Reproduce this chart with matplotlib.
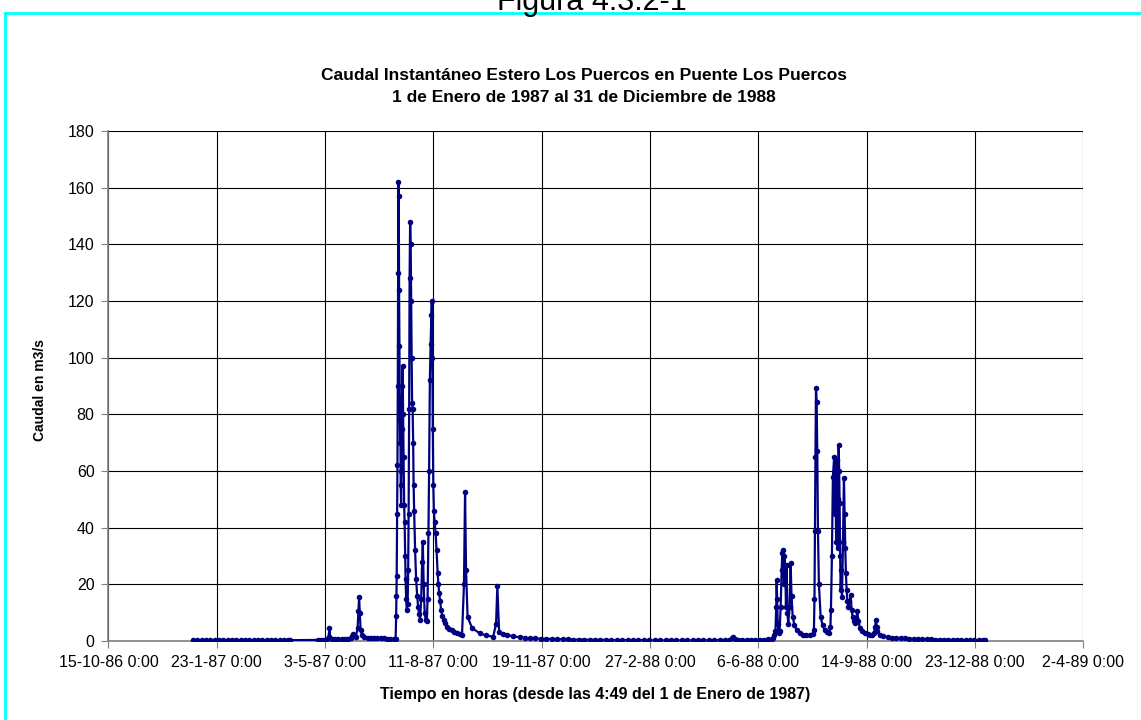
import numpy as np
import matplotlib.pyplot as plt
import matplotlib.dates as mdates
from matplotlib.lines import Line2D
from datetime import datetime

plt.rcParams['font.family'] = ['Liberation Sans', 'DejaVu Sans']

# Tiempo en días desde el 1-1-1987 4:49 y caudal instantáneo en m3/s

# enero - marzo 1987
dias_ene_mar_87 = [0, 4, 8, 12, 16, 20, 24, 28, 32, 36, 40, 44, 48, 52, 56, 60,
                   64, 68, 72, 76, 80, 84, 88, 89.6]
caudal_ene_mar_87 = [0.4, 0.3, 0.3, 0.3, 0.3, 0.3, 0.3, 0.3, 0.3, 0.3, 0.3, 0.3,
                     0.3, 0.3, 0.3, 0.3, 0.3, 0.3, 0.3, 0.3, 0.3, 0.3, 0.3, 0.3]

# abril - junio 1987 (sin registro entre el 1 y el 26 de abril)
dias_abr_jun_87 = [115.4, 118, 121, 123.5, 125.0, 125.8, 126.6, 128, 131, 134, 137,
                   140, 143, 145.5, 147.0, 147.7, 148.5, 150, 151.8, 152.6, 153.2,
                   153.8, 154.6, 156, 158, 161, 164, 167, 170, 173, 176, 179, 182,
                   185, 186.9]
caudal_abr_jun_87 = [0.4, 0.4, 0.5, 0.6, 1.5, 4.5, 1.2, 0.8, 0.7, 0.6, 0.6,
                     0.7, 0.7, 0.9, 1.6, 2.6, 1.8, 1.3, 4.5, 10.5, 15.5,
                     10.0, 4.0, 2.0, 1.5, 1.2, 1.1, 1.0, 1.0, 0.9, 0.9, 0.8, 0.8,
                     0.8, 0.7]

# crecidas de julio - octubre 1987
dias_crecidas_87 = [187.4, 187.7, 187.9, 188.3, 188.6, 188.9, 189.2, 189.5, 189.8,
                    190.1, 190.4, 190.7, 191.1, 191.3, 191.6, 192.0, 192.3, 192.5,
                    192.9, 193.4, 193.8, 194.3, 194.8, 195.2, 195.7, 196.1, 196.6,
                    197.2, 198.0, 198.5, 198.9, 199.4, 199.8, 200.3, 200.8, 201.2,
                    201.7, 202.1, 202.6, 203.1, 203.5, 204.0, 204.9, 205.8, 206.8,
                    207.7, 208.6, 209.5, 210.5, 211.4, 212.0, 212.8, 213.7, 214.6,
                    215.7, 216.4, 217.2, 217.8, 218.5, 219.2, 219.9, 220.3, 220.8,
                    221.2, 221.7, 222.2, 222.9, 223.8, 224.7, 225.7, 226.4, 227.1,
                    228.0, 228.9, 230.0, 231.2, 232.5, 234.4, 236.5, 239.0, 241.0,
                    243.6, 246.0, 248.2, 250.0, 251.0, 251.9, 253.3, 257.5, 264.9,
                    270.0, 276.9, 279.6, 280.8, 282.4, 286.0, 289.8, 295.0, 301.8,
                    306.0, 311.0]
caudal_crecidas_87 = [9, 16, 23, 45, 62, 90, 130, 162, 157,
                      124, 104, 86, 70, 78, 55, 48, 60, 75,
                      90, 97, 80, 65, 48, 42, 30, 22, 15,
                      11, 13, 25, 45, 82, 128, 148, 140, 120,
                      100, 84, 82, 70, 55, 46, 32, 22, 16,
                      12, 9.5, 7.5, 15, 28, 35, 20, 10, 7.5,
                      7, 15, 38, 60, 92, 105, 115, 120, 100,
                      75, 55, 46, 42, 38, 32, 24, 20, 17,
                      14, 11, 9, 7.4, 6.2, 5, 4.4, 3.9, 3.3,
                      2.7, 2.4, 2.2, 20, 52.6, 25, 8.6, 4.5, 2.7,
                      2.0, 1.5, 6, 19.4, 3.3, 2.5, 2.1, 1.7, 1.3,
                      1.1, 0.9]

# noviembre 1987 - mayo 1988
dias_estiaje = [316, 321, 326, 331, 336, 341, 346, 351, 356, 361, 366, 371, 376,
                381, 386, 391, 396, 401, 406, 411, 416, 421, 426, 431, 436, 441,
                446, 451, 456, 461, 466, 471, 476, 481, 486, 491, 495, 497.5, 498.6,
                499.8, 503, 507, 511, 515, 519, 523, 527, 531, 534]
caudal_estiaje = [0.9, 0.8, 0.8, 0.7, 0.7, 0.6, 0.6, 0.5, 0.5, 0.5, 0.4, 0.4, 0.4,
                  0.4, 0.3, 0.3, 0.3, 0.3, 0.3, 0.3, 0.3, 0.3, 0.2, 0.2, 0.2, 0.2,
                  0.2, 0.2, 0.2, 0.2, 0.2, 0.2, 0.3, 0.3, 0.3, 0.3, 0.4, 1.0, 1.5,
                  0.8, 0.5, 0.4, 0.4, 0.4, 0.4, 0.5, 0.5, 0.6, 0.7]

# crecidas de junio - septiembre 1988
dias_crecidas_88 = [535.0, 536.1, 537.5, 538.2, 538.6, 539.0, 539.6, 540.3, 541.3,
                    542.3, 543.2, 543.8, 544.7, 545.3, 545.8, 546.5, 547.2, 547.8,
                    548.5, 549.3, 550.5, 551.5, 552.3, 553.4, 555.0, 557.1, 560.0,
                    563.1, 566.0, 569.3, 572.0, 573.0, 573.5, 573.9, 574.4, 574.9,
                    575.5, 576.1, 576.7, 577.6, 579.2, 581.0, 583.2, 585.0, 587.1,
                    588.2, 588.7, 589.6, 590.5, 591.7, 592.3, 593.0, 593.5, 594.0,
                    594.5, 594.9, 595.4, 595.8, 596.3, 596.7, 597.2, 597.7, 598.3,
                    598.9, 599.8, 600.7, 601.3, 601.9, 602.5, 603.2, 603.9, 604.7,
                    605.8, 606.9, 607.8, 608.7, 610.0, 611.1, 612.2, 613.0, 614.0,
                    615.5, 617.5, 620.1, 622.5, 624.7, 627.0, 628.4, 629.5, 630.2,
                    631.0, 631.6, 633.9]
caudal_crecidas_88 = [1.2, 2.0, 3.5, 12, 21.5, 15, 6, 2.7, 3.5,
                      12, 25, 31, 32, 20, 30, 26, 12, 27,
                      10, 6, 12, 27.4, 16, 8.6, 5.5, 3.9, 2.8,
                      2.1, 2.0, 2.1, 2.5, 3.9, 15, 39, 65, 89.4,
                      84.5, 67, 39, 20, 8.6, 5.5, 3.9, 3.2, 2.7,
                      5, 11, 30, 58, 65, 45, 54.5, 35, 64,
                      40, 33, 50, 69.2, 60, 48.6, 30, 18, 25,
                      15.6, 35, 57.6, 45, 33, 24, 18, 14, 12,
                      14, 16.2, 11, 8.6, 7, 6.2, 8, 10.6, 7,
                      4.5, 3.5, 2.7, 2.3, 2.1, 2.0, 3, 5, 7.4,
                      5, 3.5, 2.0]

# octubre - diciembre 1988
dias_fin_88 = [637, 641, 645, 649, 653, 657, 661, 665, 669, 673, 677, 681, 685,
               689, 693, 697, 701, 705, 709, 713, 717, 721, 725, 729, 730.8]
caudal_fin_88 = [1.6, 1.4, 1.2, 1.1, 1.0, 0.9, 0.8, 0.8, 0.7, 0.7, 0.6, 0.6, 0.5,
                 0.5, 0.5, 0.4, 0.4, 0.4, 0.4, 0.3, 0.3, 0.3, 0.3, 0.3, 0.3]

dias = np.concatenate([dias_ene_mar_87, dias_abr_jun_87, dias_crecidas_87,
                       dias_estiaje, dias_crecidas_88, dias_fin_88])
caudal = np.concatenate([caudal_ene_mar_87, caudal_abr_jun_87, caudal_crecidas_87,
                         caudal_estiaje, caudal_crecidas_88, caudal_fin_88])

inicio = datetime(1987, 1, 1, 4, 49)
t = mdates.date2num(inicio) + dias

fig = plt.figure(figsize=(11.41, 7.2), dpi=100)
ax = fig.add_axes([0.095, 0.1097, 0.8546, 0.7083])

ax.plot(t, caudal, color='#000080', lw=1.6, marker='o', ms=4, mew=0, zorder=3)

# eje x cada 100 días, como en Excel
ticks_x = mdates.date2num(datetime(1986, 10, 15)) + 100 * np.arange(10)
ax.set_xlim(ticks_x[0], ticks_x[-1])
ax.set_xticks(ticks_x)
ax.set_xticklabels([f'{d.day}-{d.month}-{d.year % 100:02d} 0:00'
                    for d in mdates.num2date(ticks_x)])
ax.set_ylim(0, 180)
ax.set_yticks(np.arange(0, 181, 20))

ax.grid(True, color='black', lw=0.8)
ax.set_axisbelow(True)
for s in ['top', 'right']:
    ax.spines[s].set_visible(False)
for s in ['left', 'bottom']:
    ax.spines[s].set_color('#808080')
    ax.spines[s].set_linewidth(1.2)
ax.tick_params(direction='out', length=5, color='#808080', labelsize=11.5, pad=5)

fig.text(0.519, 1 - 10 / 720, 'Figura 4.3.2-1', ha='center', va='baseline', fontsize=22)
fig.text(0.512, 1 - 76 / 720, 'Caudal Instantáneo Estero Los Puercos en Puente Los Puercos',
         ha='center', va='center', fontsize=12.5, fontweight='bold')
fig.text(0.512, 1 - 98 / 720, '1 de Enero de 1987 al 31 de Diciembre de 1988',
         ha='center', va='center', fontsize=12.5, fontweight='bold')
fig.text(0.5215, 1 - 695 / 720, 'Tiempo en horas (desde las 4:49 del 1 de Enero de 1987)',
         ha='center', va='center', fontsize=11.5, fontweight='bold')
fig.text(40 / 1141, 1 - 390 / 720, 'Caudal en m3/s', ha='center', va='center',
         rotation=90, fontsize=10, fontweight='bold')

# marco cian
fig.add_artist(Line2D([5 / 1141, 5 / 1141], [0, 1 - 13 / 720], transform=fig.transFigure,
                      color='#00FFFF', lw=2))
fig.add_artist(Line2D([5 / 1141, 1], [1 - 13 / 720, 1 - 13 / 720], transform=fig.transFigure,
                      color='#00FFFF', lw=2))

fig.savefig('out.png', dpi=100)
